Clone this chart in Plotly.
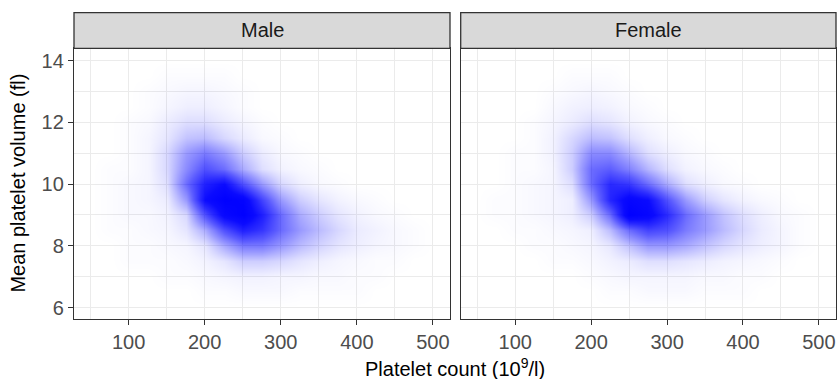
import plotly.graph_objects as go

# ---------------- data ----------------
panels = ["Male", "Female"]
x_ticks = [100, 200, 300, 400, 500]
y_ticks = [6, 8, 10, 12, 14]
x_minor = [50, 150, 250, 350, 450]
y_minor = [7, 9, 11, 13]

# density grid centres
platelet_count = [50, 75, 100, 125, 150, 175, 200, 225, 250, 275, 300, 325, 350, 375, 400, 425, 450, 475, 500]
mean_volume = [6.0, 6.5, 7.0, 7.5, 8.0, 8.5, 9.0, 9.5, 10.0, 10.5, 11.0, 11.5, 12.0, 12.5, 13.0, 13.5, 14.0]

# relative density (0..1), one row per mean_volume value
density_male = [
    [0, 0, 0, 0, 0, 0, 0, 0, 0, 0, 0, 0, 0, 0, 0, 0, 0, 0, 0],
    [0, 0, 0, 0, 0, 0, 0.01, 0.01, 0.02, 0.02, 0.02, 0.01, 0.01, 0.01, 0.01, 0, 0, 0, 0],
    [0, 0, 0, 0, 0.01, 0.01, 0.02, 0.03, 0.04, 0.04, 0.03, 0.03, 0.02, 0.02, 0.01, 0.01, 0, 0, 0],
    [0, 0, 0.01, 0.01, 0.01, 0.02, 0.04, 0.08, 0.15, 0.15, 0.12, 0.08, 0.05, 0.03, 0.02, 0.01, 0.01, 0, 0],
    [0, 0, 0.01, 0.01, 0.02, 0.03, 0.08, 0.25, 0.40, 0.40, 0.30, 0.20, 0.13, 0.08, 0.05, 0.03, 0.02, 0.01, 0],
    [0, 0.01, 0.01, 0.02, 0.03, 0.08, 0.25, 0.55, 0.75, 0.65, 0.45, 0.30, 0.20, 0.12, 0.06, 0.04, 0.02, 0.01, 0],
    [0, 0.01, 0.02, 0.02, 0.04, 0.12, 0.55, 0.90, 1.00, 0.75, 0.45, 0.25, 0.15, 0.08, 0.04, 0.02, 0.01, 0, 0],
    [0, 0.01, 0.02, 0.03, 0.06, 0.30, 0.85, 1.00, 0.95, 0.60, 0.30, 0.15, 0.08, 0.04, 0.02, 0.01, 0, 0, 0],
    [0, 0.01, 0.02, 0.03, 0.10, 0.45, 0.75, 0.85, 0.55, 0.30, 0.12, 0.05, 0.02, 0.01, 0, 0, 0, 0, 0],
    [0, 0.01, 0.01, 0.03, 0.12, 0.35, 0.55, 0.45, 0.25, 0.10, 0.04, 0.02, 0.01, 0, 0, 0, 0, 0, 0],
    [0, 0, 0.01, 0.03, 0.12, 0.30, 0.40, 0.30, 0.15, 0.06, 0.02, 0.01, 0, 0, 0, 0, 0, 0, 0],
    [0, 0, 0.01, 0.03, 0.08, 0.18, 0.20, 0.12, 0.06, 0.02, 0.01, 0, 0, 0, 0, 0, 0, 0, 0],
    [0, 0, 0.01, 0.02, 0.06, 0.10, 0.10, 0.06, 0.03, 0.01, 0, 0, 0, 0, 0, 0, 0, 0, 0],
    [0, 0, 0, 0.01, 0.03, 0.05, 0.05, 0.03, 0.01, 0, 0, 0, 0, 0, 0, 0, 0, 0, 0],
    [0, 0, 0, 0.01, 0.02, 0.03, 0.03, 0.02, 0.01, 0, 0, 0, 0, 0, 0, 0, 0, 0, 0],
    [0, 0, 0, 0, 0.01, 0.01, 0.01, 0.01, 0, 0, 0, 0, 0, 0, 0, 0, 0, 0, 0],
    [0, 0, 0, 0, 0, 0, 0, 0, 0, 0, 0, 0, 0, 0, 0, 0, 0, 0, 0],
]
density_female = [
    [0, 0, 0, 0, 0, 0, 0, 0, 0, 0, 0, 0, 0, 0, 0, 0, 0, 0, 0],
    [0, 0, 0, 0, 0, 0, 0, 0.01, 0.01, 0.02, 0.02, 0.02, 0.01, 0.01, 0.01, 0, 0, 0, 0],
    [0, 0, 0, 0, 0, 0, 0.01, 0.02, 0.03, 0.03, 0.03, 0.03, 0.02, 0.02, 0.01, 0.01, 0, 0, 0],
    [0, 0, 0, 0, 0.01, 0.01, 0.02, 0.04, 0.06, 0.10, 0.10, 0.08, 0.06, 0.04, 0.03, 0.02, 0.01, 0, 0],
    [0, 0, 0, 0.01, 0.01, 0.02, 0.03, 0.07, 0.18, 0.30, 0.30, 0.25, 0.18, 0.12, 0.08, 0.05, 0.03, 0.01, 0],
    [0, 0, 0.01, 0.01, 0.02, 0.03, 0.05, 0.20, 0.45, 0.60, 0.55, 0.40, 0.30, 0.20, 0.12, 0.06, 0.03, 0.01, 0],
    [0, 0.01, 0.01, 0.02, 0.03, 0.05, 0.15, 0.45, 1.00, 0.92, 0.70, 0.45, 0.30, 0.18, 0.10, 0.05, 0.02, 0.01, 0],
    [0, 0.01, 0.01, 0.02, 0.03, 0.05, 0.30, 0.72, 0.92, 0.85, 0.55, 0.30, 0.15, 0.08, 0.04, 0.02, 0.01, 0, 0],
    [0, 0, 0.01, 0.02, 0.03, 0.10, 0.45, 0.70, 0.65, 0.45, 0.25, 0.10, 0.05, 0.02, 0.01, 0, 0, 0, 0],
    [0, 0, 0.01, 0.01, 0.03, 0.15, 0.45, 0.50, 0.38, 0.22, 0.10, 0.04, 0.02, 0.01, 0, 0, 0, 0, 0],
    [0, 0, 0.01, 0.01, 0.04, 0.15, 0.35, 0.35, 0.22, 0.10, 0.05, 0.02, 0.01, 0, 0, 0, 0, 0, 0],
    [0, 0, 0, 0.01, 0.04, 0.12, 0.20, 0.18, 0.10, 0.05, 0.02, 0.01, 0, 0, 0, 0, 0, 0, 0],
    [0, 0, 0, 0.01, 0.03, 0.06, 0.10, 0.08, 0.04, 0.02, 0.01, 0, 0, 0, 0, 0, 0, 0, 0],
    [0, 0, 0, 0, 0.02, 0.04, 0.05, 0.04, 0.02, 0.01, 0, 0, 0, 0, 0, 0, 0, 0, 0],
    [0, 0, 0, 0, 0.01, 0.02, 0.03, 0.02, 0.01, 0, 0, 0, 0, 0, 0, 0, 0, 0, 0],
    [0, 0, 0, 0, 0, 0.01, 0.01, 0.01, 0, 0, 0, 0, 0, 0, 0, 0, 0, 0, 0],
    [0, 0, 0, 0, 0, 0, 0, 0, 0, 0, 0, 0, 0, 0, 0, 0, 0, 0, 0],
]
densities = [density_male, density_female]

# ---------------- figure ----------------
W, H = 838, 379
FONT = "Liberation Sans, Arial, Helvetica, sans-serif"
x_range = [28.2, 522.5]
y_range = [5.63, 14.4]

# alpha ramp of the blue fill (mid tones lifted, as in the reference raster)
alpha_scale = [[0.0, "rgba(0,0,255,0)"], [0.1, "rgba(0,0,255,0.13)"],
               [0.3, "rgba(0,0,255,0.40)"], [0.5, "rgba(0,0,255,0.64)"],
               [0.7, "rgba(0,0,255,0.84)"], [0.85, "rgba(0,0,255,0.96)"],
               [1.0, "rgba(0,0,255,1)"]]


def px(X):
    return X / W


def py(Y):
    return 1 - Y / H


x_domains = [[px(74), px(450)], [px(460.7), px(836)]]
y_domain = [py(319), py(48.3)]
strip_top = py(12.7)

fig = go.Figure()
for i, (name, z) in enumerate(zip(panels, densities)):
    sfx = "" if i == 0 else "2"
    fig.add_trace(go.Heatmap(
        x=platelet_count, y=mean_volume, z=z,
        zmin=0, zmax=1, zsmooth="best", showscale=False,
        colorscale=alpha_scale,
        xaxis="x" + sfx, yaxis="y" + sfx, hoverinfo="skip",
    ))

axis_common = dict(
    showline=True, mirror=True, linecolor="#333333", linewidth=1.3,
    ticks="outside", ticklen=5, tickwidth=1.2, tickcolor="#333333",
    showgrid=True, gridcolor="#EBEBEB", gridwidth=1.4, zeroline=False,
    automargin=False,
    tickfont=dict(family=FONT, size=20, color="#4D4D4D"),
)

layout = dict(
    width=W, height=H, margin=dict(l=0, r=0, t=0, b=0, autoexpand=False),
    paper_bgcolor="white", plot_bgcolor="white", showlegend=False,
    font=dict(family=FONT),
)
for i in range(2):
    sfx = "" if i == 0 else "2"
    layout["xaxis" + sfx] = dict(
        axis_common, domain=x_domains[i], range=x_range, tickvals=x_ticks,
        anchor="y" + sfx,
        minor=dict(tickvals=x_minor, showgrid=True, gridcolor="#EBEBEB", gridwidth=0.8, ticks=""),
    )
    layout["yaxis" + sfx] = dict(
        axis_common, domain=y_domain, range=y_range, tickvals=y_ticks,
        anchor="x" + sfx, showticklabels=(i == 0),
        minor=dict(tickvals=y_minor, showgrid=True, gridcolor="#EBEBEB", gridwidth=0.8, ticks=""),
    )
layout["yaxis2"]["ticks"] = ""
fig.update_layout(**layout)

shapes = []
annotations = []
for i, name in enumerate(panels):
    x0, x1 = x_domains[i]
    shapes.append(dict(type="rect", xref="paper", yref="paper", x0=x0, x1=x1,
                       y0=y_domain[1], y1=strip_top, fillcolor="#D9D9D9",
                       line=dict(color="#333333", width=1.3), layer="above"))
    annotations.append(dict(text=name, xref="paper", yref="paper",
                            x=(x0 + x1) / 2, y=(y_domain[1] + strip_top) / 2,
                            showarrow=False, xanchor="center", yanchor="middle",
                            font=dict(family=FONT, size=20, color="#1A1A1A")))

annotations.append(dict(text="Platelet count (10<sup>9</sup>/l)", xref="paper", yref="paper",
                        x=px(455), y=py(367), showarrow=False,
                        xanchor="center", yanchor="middle",
                        font=dict(family=FONT, size=20, color="black")))
annotations.append(dict(text="Mean platelet volume (fl)", xref="paper", yref="paper",
                        x=px(18), y=py(183.6), showarrow=False, textangle=-90,
                        xanchor="center", yanchor="middle",
                        font=dict(family=FONT, size=20, color="black")))
fig.update_layout(shapes=shapes, annotations=annotations)

# remove the default 8px page margin so the 838x379 figure fills the window exactly
fig.write_html("out.html", config={"displayModeBar": False},
               post_script="document.body.style.margin='0';document.body.style.overflow='hidden';")
